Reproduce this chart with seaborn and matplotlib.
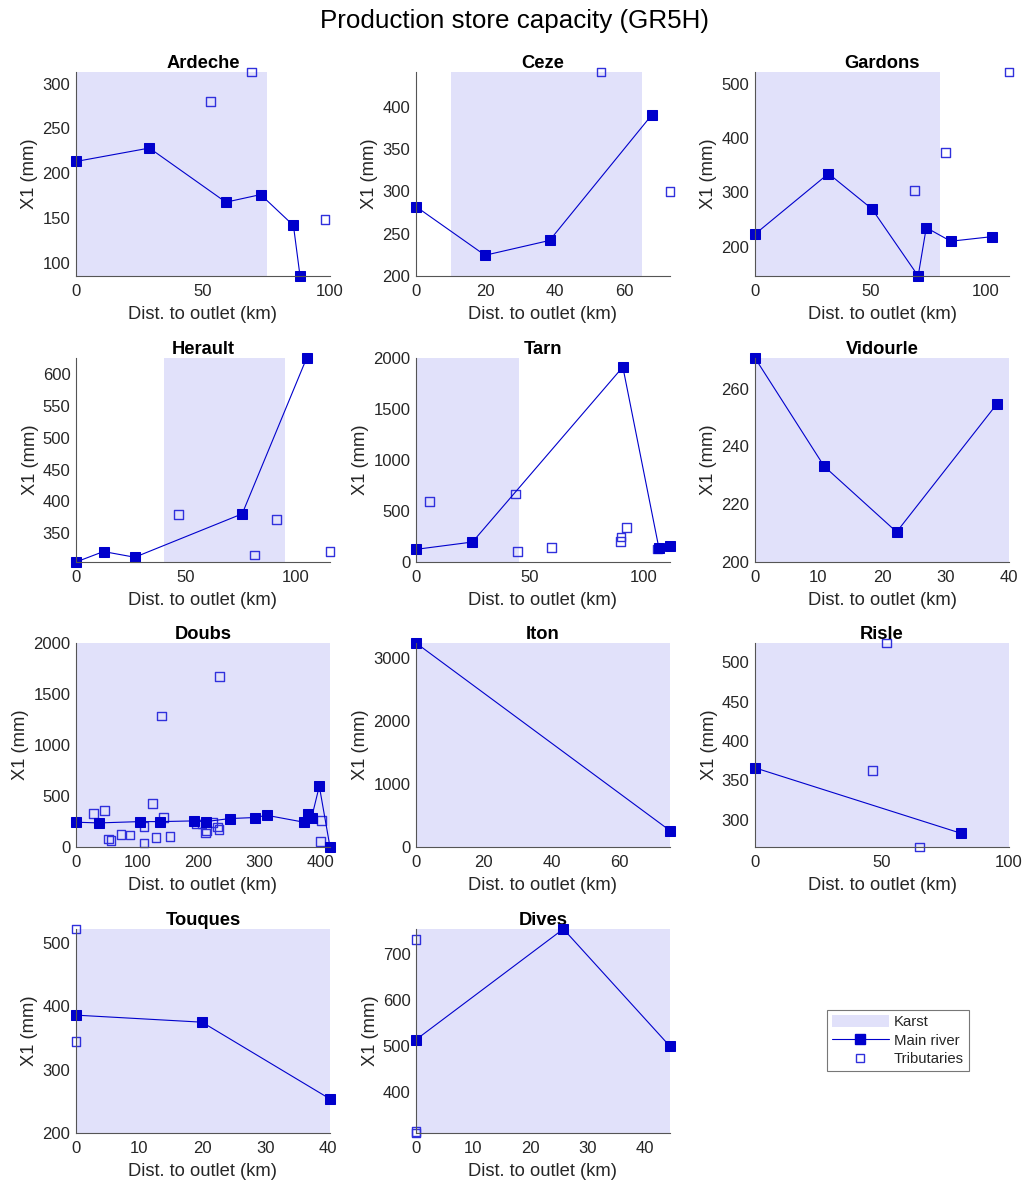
import matplotlib
matplotlib.use("Agg")
import numpy as np
import pandas as pd
import matplotlib.pyplot as plt
import seaborn as sns
from matplotlib.patches import Patch
from matplotlib.lines import Line2D

sns.set_theme(style="white")
plt.rcParams["font.family"] = ["Liberation Sans", "DejaVu Sans"]

# ---------------- data ----------------
basins = ["Ardeche", "Ceze", "Gardons", "Herault", "Tarn", "Vidourle",
          "Doubs", "Iton", "Risle", "Touques", "Dives"]

ardeche_main_x = [0, 28.9, 59.0, 72.7, 85.6, 88.2]
ardeche_main_y = [213, 228, 167.5, 176, 141.5, 85]
ardeche_trib_x = [53.0, 69.2, 98.0]
ardeche_trib_y = [280, 313, 148]

ceze_main_x = [0, 19.9, 38.5, 67.9]
ceze_main_y = [282, 224.5, 242, 390]
ceze_trib_x = [53.3, 73.2]
ceze_trib_y = [441, 299.5]

gardons_main_x = [0, 31.8, 50.6, 70.6, 74.1, 84.7, 102.7]
gardons_main_y = [223, 334.5, 269.5, 146, 235, 210, 218.5]
gardons_trib_x = [69.1, 82.4, 109.9]
gardons_trib_y = [303.5, 373.5, 521.5]

herault_main_x = [0, 12.5, 26.7, 75.5, 104.8]
herault_main_y = [304, 320.5, 311.5, 380, 626]
herault_trib_x = [46.5, 81.1, 91.1, 115.4]
herault_trib_y = [379.5, 315, 371, 321]

tarn_main_x = [0, 24.8, 90.8, 106.6, 111.5]
tarn_main_y = [124, 196, 1912, 140, 156]
tarn_trib_x = [6.0, 43.7, 44.6, 59.5, 89.7, 90.0, 92.3, 106.0]
tarn_trib_y = [590, 667, 104, 140, 200, 245, 340, 128]

vidourle_main_x = [0, 10.9, 22.3, 38.1]
vidourle_main_y = [270.6, 233.1, 210.4, 254.7]
vidourle_trib_x = []
vidourle_trib_y = []

doubs_main_x = [0, 37.6, 104, 138, 193.5, 212, 251.8, 292.6, 311.7,
                372.8, 380, 385.3, 397.8, 415.3]
doubs_main_y = [243, 236, 249, 249, 256, 249, 279, 289, 311,
                243, 321, 289, 597, 0]
doubs_trib_x = [28.9, 46.3, 52.9, 57.2, 73.6, 88.3, 111.2, 111.2, 125.4,
                130.8, 140, 142.8, 153.7, 197.3, 206, 212, 213.6, 222.9,
                231, 233.8, 234.9, 401.6, 400]
doubs_trib_y = [325, 354, 79, 66, 125, 118, 203, 39, 430,
                92, 1285, 289, 105, 226, 226, 138, 164, 243,
                197, 174, 1669, 262, 56]

iton_main_x = [0, 74.9]
iton_main_y = [3244, 260]
iton_trib_x = []
iton_trib_y = []

risle_main_x = [0, 81]
risle_main_y = [366, 283]
risle_trib_x = [51.9, 46.3, 64.9]
risle_trib_y = [524.5, 363, 265.5]

touques_main_x = [0, 20, 40.3]
touques_main_y = [385.8, 374.7, 253.7]
touques_trib_x = [0, 0]
touques_trib_y = [521.6, 344]

dives_main_x = [0, 25.7, 44.3]
dives_main_y = [513, 753.7, 498.5]
dives_trib_x = [0, 0, 0]
dives_trib_y = [731, 313.6, 310]

karst_start = [0, 10, 0, 40, 0, 0, 0, 0, 0, 0, 0]
karst_end = [75, 65, 80, 95, 45, 40, 415.3, 74.9, 100, 40.3, 44.3]

x_max = [100, 73.2, 109.9, 115.4, 111.5, 40, 415.3, 74.9, 100, 40.3, 44.3]
y_min = [85, 200, 146, 304, 0, 200, 0, 0, 265.5, 200, 310]
y_max = [313, 441, 521.5, 626, 2000, 270.6, 2000, 3244, 524.5, 521.6, 753.7]

x_ticks = [[0, 50, 100], [0, 20, 40, 60], [0, 50, 100], [0, 50, 100],
           [0, 50, 100], [0, 10, 20, 30, 40], [0, 100, 200, 300, 400],
           [0, 20, 40, 60], [0, 50, 100], [0, 10, 20, 30, 40],
           [0, 10, 20, 30, 40]]
y_ticks = [[100, 150, 200, 250, 300], [200, 250, 300, 350, 400],
           [200, 300, 400, 500], [350, 400, 450, 500, 550, 600],
           [0, 500, 1000, 1500, 2000], [200, 220, 240, 260],
           [0, 500, 1000, 1500, 2000], [0, 1000, 2000, 3000],
           [300, 350, 400, 450, 500], [200, 300, 400, 500],
           [400, 500, 600, 700]]

main_x = [ardeche_main_x, ceze_main_x, gardons_main_x, herault_main_x,
          tarn_main_x, vidourle_main_x, doubs_main_x, iton_main_x,
          risle_main_x, touques_main_x, dives_main_x]
main_y = [ardeche_main_y, ceze_main_y, gardons_main_y, herault_main_y,
          tarn_main_y, vidourle_main_y, doubs_main_y, iton_main_y,
          risle_main_y, touques_main_y, dives_main_y]
trib_x = [ardeche_trib_x, ceze_trib_x, gardons_trib_x, herault_trib_x,
          tarn_trib_x, vidourle_trib_x, doubs_trib_x, iton_trib_x,
          risle_trib_x, touques_trib_x, dives_trib_x]
trib_y = [ardeche_trib_y, ceze_trib_y, gardons_trib_y, herault_trib_y,
          tarn_trib_y, vidourle_trib_y, doubs_trib_y, iton_trib_y,
          risle_trib_y, touques_trib_y, dives_trib_y]

rows = []
for b, mx, my, tx, ty in zip(basins, main_x, main_y, trib_x, trib_y):
    for k, (x, y) in enumerate(zip(mx, my)):
        rows.append(dict(basin=b, kind="main", order=k, dist=x, x1=y))
    for k, (x, y) in enumerate(zip(tx, ty)):
        rows.append(dict(basin=b, kind="trib", order=k, dist=x, x1=y))
df = pd.DataFrame(rows)

# ---------------- style ----------------
W, H = 1029, 1186
MAIN = "#0000cc"
TRIB = "#3030dc"
KARST = "#e1e1fa"
AX = "#262626"

col_left = [76, 416, 755]
row_top = [72, 358, 643, 929]
aw, ah = 254, 204

fig = plt.figure(figsize=(W / 100, H / 100), dpi=100)
fig.text(0.5, 1 - 21 / H, "Production store capacity (GR5H)", ha="center",
         va="center", fontsize=18.7, color="black")

for i, b in enumerate(basins):
    r, c = divmod(i, 3)
    ax = fig.add_axes([col_left[c] / W, 1 - (row_top[r] + ah) / H, aw / W, ah / H])
    ax.axvspan(karst_start[i], karst_end[i], color=KARST, lw=0, zorder=0)
    d = df[df.basin == b]
    dm = d[d.kind == "main"]
    dt = d[d.kind == "trib"]
    if len(dt):
        sns.scatterplot(data=dt, x="dist", y="x1", ax=ax, marker="s", s=40,
                        facecolors="none", edgecolors=TRIB, linewidths=1.0,
                        clip_on=False, zorder=3, legend=False)
    sns.lineplot(data=dm, x="dist", y="x1", ax=ax, sort=False, estimator=None,
                 color=MAIN, lw=0.8, marker="s", markersize=7.2,
                 markerfacecolor=MAIN, markeredgecolor=MAIN, clip_on=False,
                 zorder=4, legend=False)
    ax.set_xlim(0, x_max[i])
    ax.set_ylim(y_min[i], y_max[i])
    ax.set_xticks(x_ticks[i])
    ax.set_yticks(y_ticks[i])
    ax.set_facecolor("none")
    for s in ["top", "right"]:
        ax.spines[s].set_visible(False)
    for s in ["left", "bottom"]:
        ax.spines[s].set_color("#555555")
        ax.spines[s].set_linewidth(0.8)
        ax.spines[s].set_zorder(5)
    ax.tick_params(direction="in", length=3, width=0.7, colors="#555555",
                   labelcolor=AX, labelsize=12)
    ax.tick_params(axis="x", pad=6)
    ax.tick_params(axis="y", pad=4)
    ax.set_xlabel("Dist. to outlet (km)", fontsize=13.2, color=AX, labelpad=5)
    ax.set_ylabel("X1 (mm)", fontsize=13.2, color=AX, labelpad=3)
    ax.set_title(b, fontsize=13.2, fontweight="bold", color="black", pad=3)

handles = [
    Patch(facecolor=KARST, edgecolor="none"),
    Line2D([0], [0], color=MAIN, lw=0.8, marker="s", markersize=7.2,
           markerfacecolor=MAIN, markeredgecolor=MAIN),
    Line2D([0], [0], color="none", marker="s", markersize=6.3,
           markerfacecolor="none", markeredgecolor=TRIB, markeredgewidth=1.0),
]
leg = fig.legend(handles, ["Karst", "Main river", "Tributaries"],
                 loc="upper left", bbox_to_anchor=(827 / W, 1 - 1010 / H),
                 fontsize=10.7, frameon=True, fancybox=False, handlelength=3.8,
                 handleheight=0.8, labelspacing=0.3, borderpad=0.35,
                 handletextpad=0.35, borderaxespad=0)
leg.get_frame().set_edgecolor("#555555")
leg.get_frame().set_linewidth(0.8)

fig.savefig("out.png", dpi=100)
